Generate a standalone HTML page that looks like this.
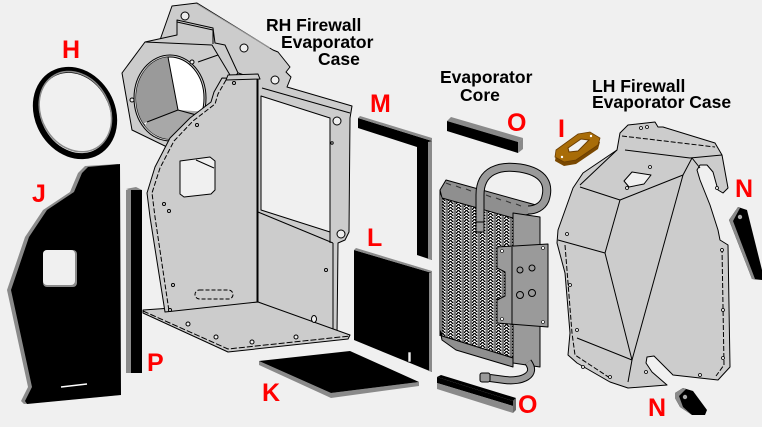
<!DOCTYPE html>
<html><head><meta charset="utf-8">
<style>
html,body{margin:0;padding:0;background:#f0f0f0;}
svg{display:block}
.lbl{font-family:"Liberation Sans",sans-serif;font-weight:bold;fill:#ff0000;font-size:25px}
.ttl{font-family:"Liberation Sans",sans-serif;font-weight:bold;fill:#000;font-size:17.5px}
</style></head><body>
<svg width="762" height="427" viewBox="0 0 762 427" xmlns="http://www.w3.org/2000/svg">
<defs>
<pattern id="fin" width="8" height="3" patternUnits="userSpaceOnUse">
 <rect width="8" height="3" fill="#fff"/>
 <path d="M0,3 L2.5,0 L5,3" stroke="#000" stroke-width="1.3" fill="none"/>
 <rect x="5.5" y="0" width="2.5" height="3" fill="#777"/>
</pattern>
<clipPath id="hole"><ellipse cx="170" cy="98" rx="34" ry="41"/></clipPath>
</defs>
<rect width="762" height="427" fill="#f0f0f0"/>

<!-- H ring -->
<ellipse cx="75" cy="113" rx="45" ry="37" transform="rotate(60 75 113)" fill="none" stroke="#000" stroke-width="6"/>
<ellipse cx="74" cy="112" rx="42" ry="34" transform="rotate(60 75 113)" fill="none" stroke="#8a8a8a" stroke-width="1.5"/>

<!-- J gasket -->
<polygon points="85,166 118,164 119,395 24,404 21,401 28,387 7,290 25,237 43,210 70,192 78,173" fill="#8a8a8a"/>
<polygon points="88,167 120,164 121,395 27,404 25,401 32,387 11,290 29,237 47,210 74,192 82,173" fill="#000"/>
<rect x="43" y="250" width="34" height="37" rx="4" fill="#8a8a8a"/>
<rect x="43" y="250" width="32" height="35" rx="4" fill="#f0f0f0"/>
<line x1="61" y1="387" x2="87" y2="384" stroke="#fff" stroke-width="1.5"/>

<!-- P strip -->
<polygon points="126,189 136,187 142,190 131,191" fill="#8a8a8a"/>
<rect x="126" y="190" width="5" height="183" fill="#8a8a8a"/>
<rect x="131" y="190" width="11" height="183" fill="#000"/>

<!-- RH case -->
<g stroke="#000" stroke-width="1" stroke-linejoin="round" fill="#cccccc">
 <polygon points="160,40 172,6 197,3 273,50 278,52 290,67 286,72 291,77 287,87 352,106 350,118 349,232 345,240 338,243 337,335 258,302 258,80 230,70 160,45"/>
 <line x1="197" y1="4" x2="270" y2="48" stroke="#999"/>
 <line x1="262" y1="88" x2="350" y2="113"/>
 <polygon points="261,96 330,118 330,232 261,210" fill="#f0f0f0"/>
 <line x1="330" y1="118" x2="330" y2="243"/>
 <line x1="258" y1="212" x2="333" y2="243"/>
 <line x1="333" y1="243" x2="333" y2="335"/>
 <circle cx="337" cy="121" r="4" fill="#eee"/>
 <circle cx="341" cy="234" r="4" fill="#eee"/>
 <circle cx="185" cy="16" r="4" fill="#eee"/>
 <circle cx="244" cy="48" r="4" fill="#eee"/>
 <circle cx="275" cy="80" r="4" fill="#eee"/>
 <!-- blower housing -->
 <polygon points="122,73 145,42 177,35 177,20 213,28 215,43 225,45 238,73 232,80 200,130 167,147 132,130"/>
 <polyline points="177,22 213,30 213,44" fill="none"/>
 <polyline points="145,42 212,45 230,75" fill="none"/>
 <line x1="198" y1="62" x2="218" y2="55"/>
 <ellipse cx="170" cy="98" rx="36" ry="43" fill="none"/>
 <ellipse cx="170" cy="98" rx="34" ry="41" fill="#ffffff"/>
 <g clip-path="url(#hole)" stroke="none">
  <polygon points="130,50 168,57 178,110 147,122 130,130" fill="#9a9a9a"/>
  <polygon points="147,122 178,110 210,112 210,150 130,150" fill="#a8a8a8"/>
 </g>
 <polyline points="168,57 178,110 147,122" fill="none"/>
 <line x1="178" y1="110" x2="200" y2="116"/>
 <circle cx="132" cy="100" r="2" fill="#eee"/>
 <circle cx="192" cy="62" r="2" fill="#eee"/>
 <!-- floor -->
 <polygon points="143,310 258,302 350,335 348,339 228,352 143,313"/>
 <polyline points="143,311 228,349 350,336" fill="none" stroke-dasharray="6,2"/>
 <!-- front panel -->
 <polygon points="222,78 257,79 257,302 165,312 150,217 147,193 155,167 170,138 190,118 211,102 214,92"/>
 <polyline points="226,80 218,94 215,104 193,121 174,141 160,168 152,193 155,217 169,311" fill="none" stroke-dasharray="5,2"/>
 <polygon points="180,161 210,157 215,161 215,190 211,194 184,197 180,194" fill="#f0f0f0"/>
 <line x1="196" y1="160" x2="214" y2="168"/>
 <rect x="195" y="290" width="38" height="9" rx="4.5" fill="none" stroke-dasharray="4,2"/>
 <polygon points="228,75 258,74 260,79 226,80"/>
</g>
<g fill="#eee" stroke="#000" stroke-width="1">
 <circle cx="188" cy="324" r="2"/><circle cx="216" cy="337" r="2"/><circle cx="252" cy="342" r="2"/>
 <circle cx="296" cy="337" r="2"/><ellipse cx="314" cy="319" rx="2.5" ry="3.5"/>
 <circle cx="234" cy="83" r="1.5"/><circle cx="169" cy="211" r="1.5"/><circle cx="173" cy="285" r="1.5"/>
 <circle cx="164" cy="204" r="1.5"/><circle cx="326" cy="270" r="1.5"/><circle cx="332" cy="143" r="1.2"/>
 <circle cx="170" cy="310" r="1.5"/><circle cx="197" cy="125" r="1.5"/>
</g>

<!-- M gasket -->
<polygon points="358,118 432,141 432,260 417,255 417,147 358,128" fill="#000"/>
<polygon points="358,118 360,116 432,138 432,141" fill="#8a8a8a"/>
<polygon points="428,142 432,141 432,260 428,259" fill="#8a8a8a"/>

<!-- L gasket -->
<polygon points="354,250 432,273 432,372 354,340" fill="#000"/>
<polygon points="354,250 356,248 432,271 432,273" fill="#8a8a8a"/>
<polygon points="429,273 432,273 432,372 429,371" fill="#8a8a8a"/>
<rect x="408" y="352" width="3" height="10" fill="#f0f0f0" stroke="#000" stroke-width="0.6"/>

<!-- K gasket -->
<polygon points="259,361 331,393 419,382 419,386 331,398 259,365" fill="#8a8a8a"/>
<polygon points="259,361 350,351 419,382 331,393" fill="#000"/>

<!-- O top -->
<polygon points="447,121 451,117 523,138 518,142" fill="#8a8a8a"/>
<polygon points="447,121 518,142 518,153 447,131" fill="#000"/>
<polygon points="518,142 523,138 523,149 518,153" fill="#8a8a8a"/>

<!-- O bottom -->
<polygon points="437,377 441,375 516,398 513,401" fill="#000"/>
<polygon points="437,377 513,401 513,406 437,383" fill="#000"/>
<polygon points="437,383 513,406 513,413 437,389" fill="#8a8a8a"/>
<polygon points="513,401 516,398 516,410 513,413" fill="#6a6a6a"/>

<!-- Evaporator core -->
<g stroke="#000" stroke-width="1" stroke-linejoin="round">
 <polygon points="442,195 513,215 513,358 442,336" fill="url(#fin)"/>
 <polygon points="440,190 446,180 536,205 538,212 513,218 442,198" fill="#8f8f8f"/>
 <path d="M446,183 l5,2 M456,186 l5,2 M466,189 l5,2 M476,192 l5,2 M486,195 l5,2 M496,198 l5,2 M506,201 l5,2 M516,204 l5,2" stroke="#333"/>
 <line x1="440" y1="190" x2="440" y2="336"/>
 <polygon points="440,330 442,340 456,350 513,367 513,358 442,336" fill="#8f8f8f"/>
 <polygon points="513,213 540,217 540,367 513,363" fill="#9a9a9a"/>
 <path d="M480,225 L480,195 C480,170 500,165 520,168 C545,172 550,185 545,200 C542,207 535,210 528,210" fill="none" stroke="#000" stroke-width="9"/>
 <path d="M480,225 L480,195 C480,170 500,165 520,168 C545,172 550,185 545,200 C542,207 535,210 528,210" fill="none" stroke="#9a9a9a" stroke-width="7"/>
 <rect x="476" y="222" width="8" height="10" fill="#9a9a9a"/>
 <polygon points="497,247 548,244 548,327 497,323 497,300 505,296 505,272 497,268" fill="#9a9a9a"/>
 <line x1="512" y1="247" x2="512" y2="325"/>
 <g fill="#9a9a9a">
  <circle cx="520" cy="270" r="3"/><circle cx="532" cy="268" r="3"/>
  <circle cx="520" cy="295" r="3.5"/><circle cx="532" cy="293" r="3.5"/>
 </g>
 <g fill="#fff" stroke-width="0.6">
  <circle cx="502" cy="251" r="1.5"/><circle cx="543" cy="248" r="1.5"/>
  <circle cx="502" cy="319" r="1.5"/><circle cx="543" cy="322" r="1.5"/>
 </g>
 <path d="M528,362 C538,375 522,382 505,380 L490,378" fill="none" stroke="#000" stroke-width="8"/>
 <path d="M528,362 C538,375 522,382 505,380 L490,378" fill="none" stroke="#9a9a9a" stroke-width="6"/>
 <rect x="480" y="373" width="10" height="9" rx="2" fill="#9a9a9a"/>
</g>

<!-- I gasket -->
<polygon points="556,154 578,138 590,136 600,142 598,149 576,164 564,166 555,161" fill="#7a4800"/>
<polygon points="556,150 578,134 590,132 600,138 598,145 576,160 564,162 555,157" fill="#a86c08" stroke="#6a3c00" stroke-width="0.8"/>
<polygon points="568,148 581,139 589,140 578,151 569,152" fill="#f0f0f0" stroke="#6a3c00" stroke-width="1"/>
<circle cx="562" cy="157" r="1.2" fill="#fff"/><circle cx="591" cy="136" r="1.2" fill="#fff"/>

<!-- LH case -->
<g stroke="#000" stroke-width="1" stroke-linejoin="round" fill="#cccccc">
 <polygon points="620,133 628,125 655,122 658,127 663,127 715,143 722,155 728,188 723,193 718,190 713,172 707,165 700,165 697,170 700,180 710,205 718,230 720,240 728,245 730,367 718,380 673,375 660,362 654,356 647,357 646,363 652,372 667,385 628,388 610,382 577,363 568,355 570,333 565,273 557,243 558,230 573,188 583,173 617,150"/>
 <polyline points="580,187 620,200 683,175 692,158" fill="none"/>
 <polyline points="620,200 605,253 632,360" fill="none"/>
 <polyline points="558,240 605,253" fill="none"/>
 <polyline points="683,175 632,360" fill="none"/>
 <polyline points="577,338 632,360 628,382" fill="none"/>
 <polyline points="625,150 690,158 722,155" fill="none"/>
 <polyline points="617,150 580,185" fill="none"/>
 <polyline points="692,158 700,168" fill="none"/>
 <polyline points="622,136 715,147" fill="none" stroke-dasharray="5,2"/>
 <polyline points="565,245 572,333 575,355 610,378" fill="none" stroke-dasharray="5,2"/>
 <polyline points="722,248 724,365 716,376" fill="none" stroke-dasharray="5,2"/>
 <polygon points="624,181 632,172 651,175 644,184 629,187" fill="#f0f0f0"/>
</g>
<g fill="#eee" stroke="#000" stroke-width="0.8">
 <circle cx="722" cy="250" r="1.5"/><circle cx="723" cy="310" r="1.5"/><circle cx="723" cy="358" r="1.5"/>
 <circle cx="567" cy="234" r="1.5"/><circle cx="570" cy="285" r="1.5"/><circle cx="577" cy="330" r="1.5"/>
 <circle cx="583" cy="367" r="1.5"/><circle cx="610" cy="377" r="1.5"/><circle cx="646" cy="372" r="1.5"/>
 <circle cx="700" cy="375" r="1.5"/><circle cx="650" cy="167" r="1.5"/><circle cx="627" cy="188" r="1.5"/>
 <circle cx="717" cy="188" r="1.5"/><circle cx="641" cy="128" r="1.5"/><circle cx="647" cy="127" r="1.5"/>
</g>

<!-- N right -->
<polygon points="729,220 738,207 747,210 762,270 762,280 752,279" fill="#000"/>
<polygon points="729,220 738,207 740,208 733,221 755,279 752,279" fill="#8a8a8a"/>
<circle cx="740" cy="217" r="2.5" fill="#aaa" stroke="#000" stroke-width="0.6"/>
<!-- N bottom -->
<polygon points="675,393 683,388 693,391 707,410 705,415 692,415 680,407 675,398" fill="#000"/>
<polygon points="675,393 683,388 686,389 679,396 683,407 692,415 680,407 675,398" fill="#8a8a8a"/>
<circle cx="685" cy="397" r="2.5" fill="#aaa" stroke="#000" stroke-width="0.6"/>

<!-- Titles -->
<text class="ttl" x="266" y="31">RH Firewall</text>
<text class="ttl" x="281" y="48">Evaporator</text>
<text class="ttl" x="318" y="65">Case</text>
<text class="ttl" x="440" y="83">Evaporator</text>
<text class="ttl" x="460" y="101">Core</text>
<text class="ttl" x="592" y="92">LH Firewall</text>
<text class="ttl" x="592" y="108">Evaporator Case</text>

<!-- Red labels -->
<text class="lbl" x="62" y="58">H</text>
<text class="lbl" x="32" y="202">J</text>
<text class="lbl" x="147" y="371">P</text>
<text class="lbl" x="262" y="401">K</text>
<text class="lbl" x="370" y="112">M</text>
<text class="lbl" x="367" y="246">L</text>
<text class="lbl" x="507" y="131">O</text>
<text class="lbl" x="518" y="413">O</text>
<text class="lbl" x="558" y="137">I</text>
<text class="lbl" x="735" y="197">N</text>
<text class="lbl" x="648" y="416">N</text>
</svg>
</body></html>
